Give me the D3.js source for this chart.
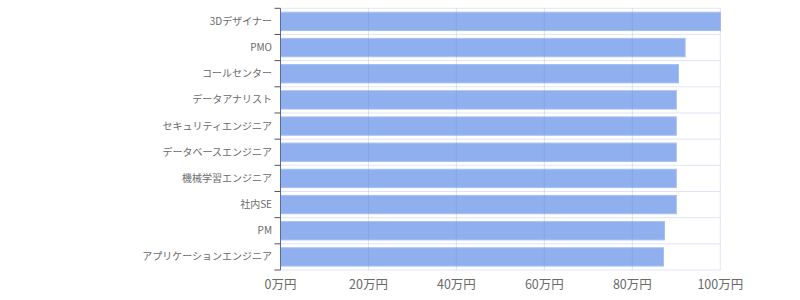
<!DOCTYPE html>
<html><head><meta charset="utf-8">
<script src="https://cdn.jsdelivr.net/npm/d3@7"></script>
<style>
body{margin:0;background:#fff;}
svg{display:block;font-family:"Noto Sans CJK JP","Noto Sans",sans-serif;}
</style></head>
<body><svg id="c" width="800" height="300"></svg>
<script>
const categories = ["3Dデザイナー","PMO","コールセンター","データアナリスト","セキュリティエンジニア","データベースエンジニア","機械学習エンジニア","社内SE","PM","アプリケーションエンジニア"];
const values = [100, 92, 90.5, 90, 90, 90, 90, 90, 87.3, 87.1];
const xTicks = [0, 20, 40, 60, 80, 100];
const tickSuffix = "万円";

const svg = d3.select("#c");
const m = {left: 280.5, top: 8.3, bottom: 270};
const x = d3.scaleLinear().domain([0, 100]).range([m.left, 720.3]);
const y = d3.scaleBand().domain(categories).range([m.top, m.bottom]).paddingInner(0.3).paddingOuter(0.15);

const grid = "rgba(110,135,210,0.22)";
const bstep = (m.bottom - m.top) / categories.length;
const hb = d3.range(categories.length + 1).map(i => m.top + i * bstep);
svg.append("g").selectAll("line").data(hb).join("line")
  .attr("x1", x(0)).attr("x2", x(100)).attr("y1", d => d).attr("y2", d => d)
  .attr("stroke", grid).attr("stroke-width", 1);

// bars
svg.append("g").selectAll("rect").data(values).join("rect")
  .attr("x", x(0))
  .attr("y", (d, i) => y(categories[i]))
  .attr("width", d => x(d) - x(0))
  .attr("height", y.bandwidth())
  .attr("fill", "#8fafee")
  .attr("stroke", "#a6bff2").attr("stroke-width", 1);

// vertical gridlines on top
svg.append("g").selectAll("line").data(xTicks.slice(1)).join("line")
  .attr("x1", d => x(d)).attr("x2", d => x(d)).attr("y1", m.top).attr("y2", m.bottom)
  .attr("stroke", grid).attr("stroke-width", 1);

// left axis line
svg.append("line").attr("x1", x(0)).attr("x2", x(0)).attr("y1", m.top).attr("y2", m.bottom)
  .attr("stroke", "#5a6a9a").attr("stroke-width", 1);
svg.append("g").selectAll("line").data(hb).join("line")
  .attr("x1", x(0) - 6).attr("x2", x(0)).attr("y1", d => d).attr("y2", d => d)
  .attr("stroke", "#555").attr("stroke-width", 1);

// category labels
svg.append("g").selectAll("text").data(categories).join("text")
  .attr("x", 272).attr("y", d => y(d) + y.bandwidth() / 2)
  .attr("dy", "0.35em").attr("text-anchor", "end")
  .attr("font-size", 10).attr("fill", "#6a6a6a").text(d => d);

// x tick labels
svg.append("g").selectAll("text").data(xTicks).join("text")
  .attr("x", d => x(d)).attr("y", 285).attr("dy", "0.35em")
  .attr("text-anchor", "middle").attr("font-size", 12.5).attr("fill", "#6a6a6a")
  .text(d => d + tickSuffix);
</script></body></html>
